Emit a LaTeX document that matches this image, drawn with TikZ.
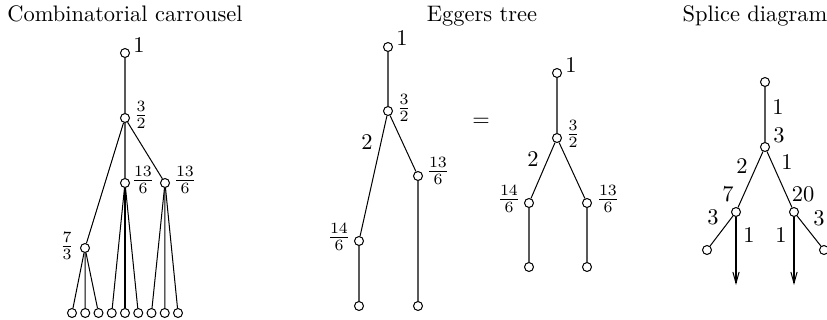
\documentclass[tikz,border=0pt]{standalone}
\usetikzlibrary{arrows.meta}
\tikzset{
  vtx/.style={draw, circle, inner sep=0pt, minimum size=4pt},
  lbl/.style={inner sep=0pt},
  ttl/.style={anchor=base},
  splice/.style={-{Straight Barb[length=5pt,width=2.8pt]}},
}
\begin{document}
\begin{tikzpicture}[x=0.4456pt, y=-0.4456pt, line width=0.45pt]
  \useasboundingbox (0,0) rectangle (827,320);
  \node[ttl] (tcar) at (125,21) {Combinatorial carrousel};
  \node[ttl] (tegg) at (482,21) {Eggers tree};
  \node[ttl] (tspl) at (755,21) {Splice diagram};

  % carrousel: folhas a cada 13.25
  \node[vtx] (c1) at (125,53) {};
  \node[vtx] (c32) at (125,118) {};
  \node[vtx] (c136a) at (125,183) {};
  \node[vtx] (c136b) at (165,183) {};
  \node[vtx] (c73) at (85,248) {};
  \foreach \i in {0,...,8}
    \node[vtx] (cl\i) at (72+13.25*\i,313) {};
  \draw (c1) -- (c32) (c32) -- (c73) (c32) -- (c136a) (c32) -- (c136b);
  \foreach \i/\p in {0/c73,1/c73,2/c73,3/c136a,4/c136a,5/c136a,6/c136b,7/c136b,8/c136b}
    \draw (\p) -- (cl\i);
  \node[lbl] (c1l) at (139,45) {1};
  \node[lbl] (c32l) at (141,115) {$\frac{3}{2}$};
  \node[lbl] (c136al) at (143,180) {$\frac{13}{6}$};
  \node[lbl] (c136bl) at (185,180) {$\frac{13}{6}$};
  \node[lbl] (c73l) at (67,246) {$\frac{7}{3}$};

  % Eggers tree, left
  \node[vtx] (e1) at (388,47) {};
  \node[vtx] (e32) at (388,111) {};
  \node[vtx] (e136) at (418,176) {};
  \node[vtx] (e146) at (359,241) {};
  \node[vtx] (ea) at (359,306) {};
  \node[vtx] (eb) at (418,306) {};
  \draw (e1) -- (e32) -- (e146) -- (ea) (e32) -- (e136) -- (eb);
  \node[lbl] (e1l) at (402,38) {1};
  \node[lbl] (e32l) at (404,108) {$\frac{3}{2}$};
  \node[lbl] (e2l) at (367,142) {2};
  \node[lbl] (e136l) at (438,171) {$\frac{13}{6}$};
  \node[lbl] (e146l) at (339,237) {$\frac{14}{6}$};
  \node[lbl] (eq) at (481,122) {$=$};

  % Eggers tree, right
  \node[vtx] (f1) at (557,73) {};
  \node[vtx] (f32) at (557,138) {};
  \node[vtx] (f146) at (529,203) {};
  \node[vtx] (f136) at (587,203) {};
  \node[vtx] (fa) at (529,267) {};
  \node[vtx] (fb) at (587,267) {};
  \draw (f1) -- (f32) -- (f146) -- (fa) (f32) -- (f136) -- (fb);
  \node[lbl] (f1l) at (571,65) {1};
  \node[lbl] (f32l) at (573,134) {$\frac{3}{2}$};
  \node[lbl] (f2l) at (533,159) {2};
  \node[lbl] (f146l) at (509,199) {$\frac{14}{6}$};
  \node[lbl] (f136l) at (608,199) {$\frac{13}{6}$};

  % splice diagram
  \node[vtx] (s0) at (765,82) {};
  \node[vtx] (s1) at (765,147) {};
  \node[vtx] (s2) at (736,212) {};
  \node[vtx] (s3) at (794,212) {};
  \node[vtx] (s4) at (707,250) {};
  \node[vtx] (s5) at (824,250) {};
  \coordinate (s2e) at (736,285);
  \coordinate (s3e) at (794,285);
  \draw (s0) -- (s1) -- (s2) -- (s4) (s1) -- (s3) -- (s5);
  \draw[splice] (s2) -- (s2e);
  \draw[splice] (s3) -- (s3e);
  \node[lbl] (s01l) at (778,107) {1};
  \node[lbl] (s10l) at (779,135) {3};
  \node[lbl] (s12l) at (742,166) {2};
  \node[lbl] (s13l) at (787,162) {1};
  \node[lbl] (s21l) at (728,194) {7};
  \node[lbl] (s31l) at (803,194) {20};
  \node[lbl] (s24l) at (713,217) {3};
  \node[lbl] (s35l) at (819,218) {3};
  \node[lbl] (s2el) at (749,235) {1};
  \node[lbl] (s3el) at (781,235) {1};
\end{tikzpicture}
\end{document}
